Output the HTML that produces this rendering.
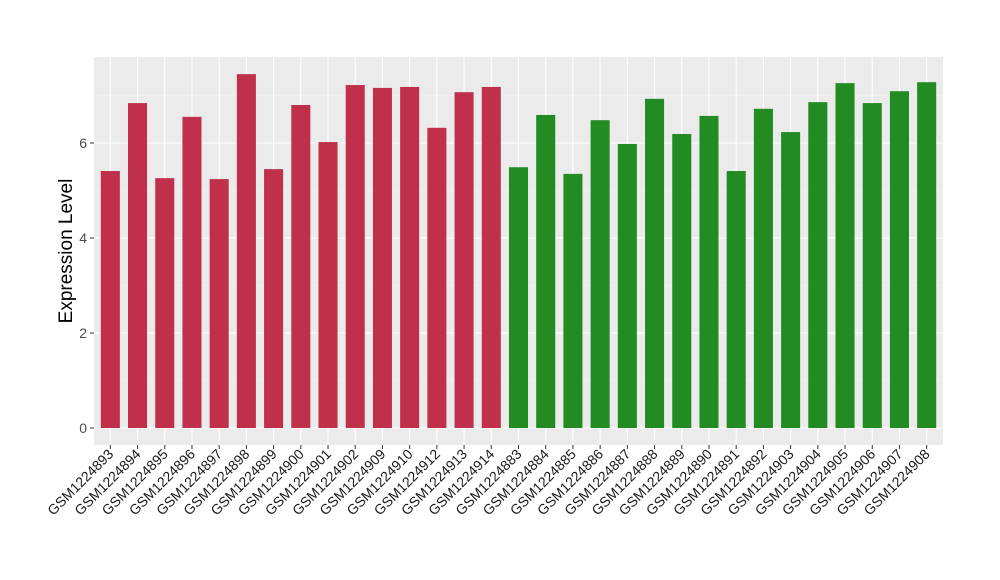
<!DOCTYPE html>
<html><head><meta charset="utf-8"><style>body{margin:0;background:#fff}svg{display:block}</style></head>
<body>
<svg id="chart" width="1000" height="580" xmlns="http://www.w3.org/2000/svg" font-family="Liberation Sans, sans-serif">
<rect x="94" y="57" width="849" height="388" fill="#EBEBEB"/>
<g id="grid"></g><g id="bars"></g><g id="yaxis"></g><g id="xaxis"></g>
<text x="72" y="251" font-size="19" text-anchor="middle" transform="rotate(-90 72 251)">Expression Level</text>
</svg>
<script>
const categories=["GSM1224893","GSM1224894","GSM1224895","GSM1224896","GSM1224897","GSM1224898","GSM1224899","GSM1224900","GSM1224901","GSM1224902","GSM1224909","GSM1224910","GSM1224912","GSM1224913","GSM1224914","GSM1224883","GSM1224884","GSM1224885","GSM1224886","GSM1224887","GSM1224888","GSM1224889","GSM1224890","GSM1224891","GSM1224892","GSM1224903","GSM1224904","GSM1224905","GSM1224906","GSM1224907","GSM1224908"];
const values=[5.41,6.84,5.26,6.55,5.24,7.45,5.45,6.80,6.02,7.22,7.16,7.18,6.32,7.07,7.18,5.49,6.59,5.35,6.48,5.98,6.93,6.19,6.57,5.41,6.72,6.23,6.86,7.26,6.84,7.09,7.28];
const groups=["a","a","a","a","a","a","a","a","a","a","a","a","a","a","a","b","b","b","b","b","b","b","b","b","b","b","b","b","b","b","b"];
const yTicks=[0,2,4,6];
const yMinor=[1,3,5,7];
const NS="http://www.w3.org/2000/svg";
const px0=94,px1=943,y0=428,yPer=47.5;
const n=categories.length,step=(px1-px0)/(n-1+1.2);
const xs=i=>px0+step*(0.6+i);
const ys=v=>y0-v*yPer;
function mk(tag,attrs,parent){const e=document.createElementNS(NS,tag);for(const k in attrs)e.setAttribute(k,attrs[k]);document.getElementById(parent).appendChild(e);return e;}
yMinor.forEach(v=>{const l=mk("line",{x1:px0,x2:px1,y1:ys(v),y2:ys(v),stroke:"#F5F5F5","stroke-width":0.6},"grid");

});
yTicks.forEach(v=>{const l=mk("line",{x1:px0,x2:px1,y1:ys(v),y2:ys(v),stroke:"#fff","stroke-width":1.1},"grid");


const t=mk("line",{x1:px0-4,x2:px0,y1:ys(v),y2:ys(v),stroke:"#333","stroke-width":1},"yaxis");


const tx=mk("text",{x:px0-7,y:ys(v)+5,"font-size":14,"text-anchor":"end",fill:"#4D4D4D"},"yaxis");tx.textContent=v;

});
const bw=step*0.7;
categories.forEach((c,i)=>{const x=xs(i);
const g=mk("line",{x1:x,x2:x,y1:57,y2:445,stroke:"#fff","stroke-width":1.1},"grid");


const b=mk("rect",{x:x-bw/2,y:ys(values[i]),width:bw,height:values[i]*yPer,fill:groups[i]==="a"?"#C0304A":"#228B22"},"bars");


const t=mk("line",{x1:x,x2:x,y1:445,y2:449,stroke:"#333","stroke-width":1},"xaxis");


const lx=x+4,ly=455;
const tx=mk("text",{x:lx,y:ly,"font-size":14,"text-anchor":"end",fill:"#1a1a1a",transform:`rotate(-45 ${lx} ${ly})`},"xaxis");tx.textContent=c;

});
</script>
</body></html>
